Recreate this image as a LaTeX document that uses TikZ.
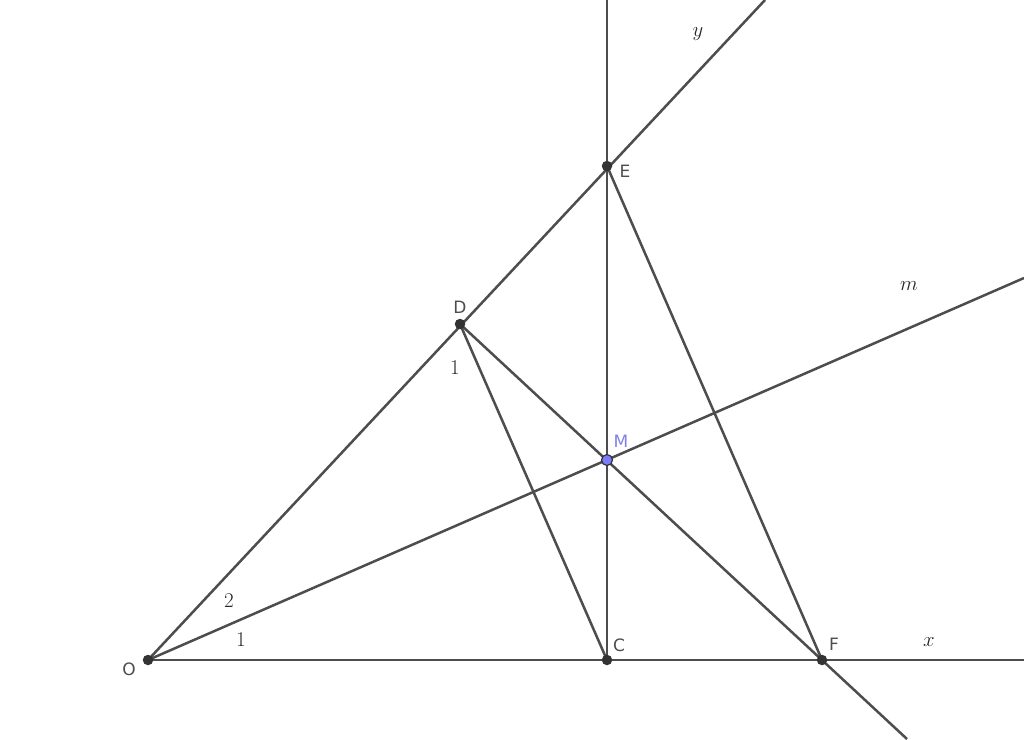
\documentclass[tikz,border=0pt]{standalone}
\usepackage{fontspec}
\newfontfamily\lblfont{DejaVu Sans}
\definecolor{ln}{HTML}{4D4D4D}
\definecolor{pt}{HTML}{333333}
\definecolor{mpt}{HTML}{7B7BFF}
\definecolor{mlbl}{HTML}{8080E6}
\begin{document}
\begin{tikzpicture}[x=1pt,y=-1pt,
  seg/.style={draw=ln,line width=2.5pt},
  dot/.style={circle,fill=pt,inner sep=0pt,minimum size=10.5pt},
  mdot/.style={circle,fill=mpt,draw=pt,line width=1.2pt,inner sep=0pt,minimum size=11pt},
  plbl/.style={text=ln,font=\lblfont\fontsize{17}{17}\selectfont,inner sep=0pt},
  mathlbl/.style={text=black!85,font=\fontsize{21}{21}\selectfont,inner sep=0pt}]
\useasboundingbox (0,0) rectangle (1024,739);
\coordinate (O) at (148,660);
\coordinate (C) at (607,660);
\coordinate (F) at (822,660);
\coordinate (E) at (607,166);
\coordinate (D) at (460,324);
\coordinate (M) at (607,460);
\coordinate (Xend) at (1024,660);
\coordinate (Yend) at (765,0);
\coordinate (Vend) at (607,0);
\coordinate (Mend) at (1024,278);
\coordinate (Fend) at (907,739);
\draw[seg] (O) -- (Xend);
\draw[seg] (O) -- (Yend);
\draw[seg] (C) -- (Vend);
\draw[seg] (O) -- (Mend);
\draw[seg] (D) -- (Fend);
\draw[seg] (D) -- (C);
\draw[seg] (E) -- (F);
\node[dot] (nO) at (O) {};
\node[dot] (nC) at (C) {};
\node[dot] (nF) at (F) {};
\node[dot] (nE) at (E) {};
\node[dot] (nD) at (D) {};
\node[mdot] (nM) at (M) {};
\node[plbl] (lO) at (129,669) {O};
\node[plbl] (lC) at (619,645) {C};
\node[plbl] (lF) at (834,644) {F};
\node[plbl] (lE) at (625,171) {E};
\node[plbl] (lD) at (460,307) {D};
\node[plbl,text=mlbl] (lM) at (621,441) {M};
\node[mathlbl] (ly) at (698,34) {$y$};
\node[mathlbl] (lm) at (909,286) {$m$};
\node[mathlbl] (lx) at (929,642) {$x$};
\node[mathlbl] (l1a) at (455,368) {1};
\node[mathlbl] (l2) at (229,601) {2};
\node[mathlbl] (l1b) at (241,640) {1};
\end{tikzpicture}
\end{document}
